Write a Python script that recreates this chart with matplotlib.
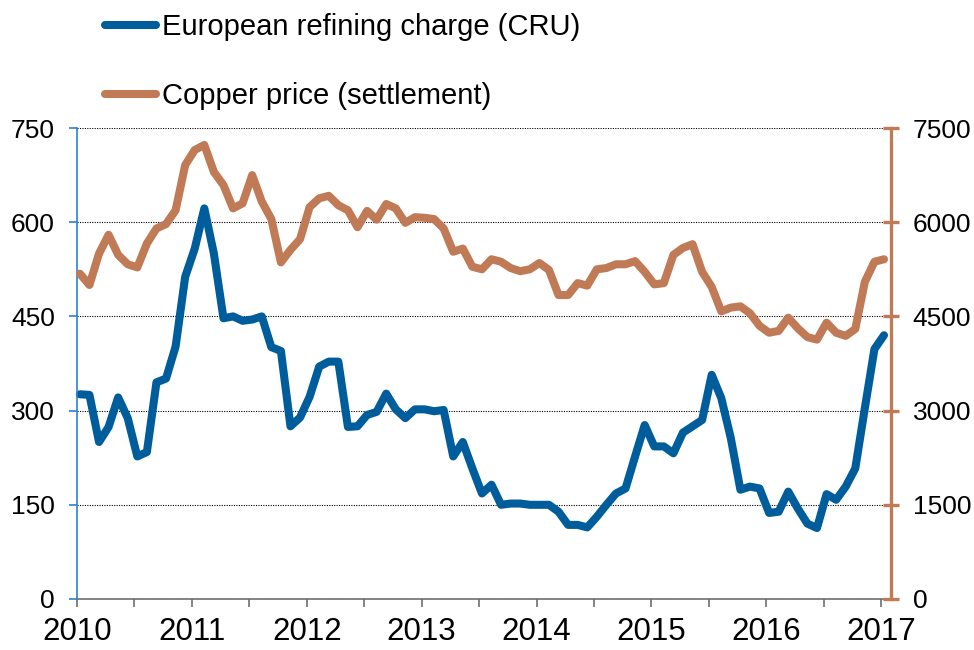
import numpy as np
import matplotlib
matplotlib.use("Agg")
import matplotlib.pyplot as plt

plt.rcParams['font.family'] = ['Liberation Sans', 'DejaVu Sans']

# monthly data, Jan 2010 .. Jan 2017
refining = [326, 325, 250, 274, 321, 288, 227, 234, 345, 351, 402, 513,
            558, 622, 550, 447, 450, 443, 445, 450, 401, 395, 275, 289,
            322, 370, 378, 378, 274, 275, 293, 298, 327, 302, 288, 302,
            302, 299, 301, 227, 250, 208, 168, 182, 150, 152, 152, 150,
            150, 150, 139, 118, 118, 114, 131, 150, 168, 176, 227, 277,
            243, 243, 232, 265, 275, 285, 357, 320, 256, 174, 179, 176,
            137, 139, 171, 144, 120, 113, 167, 158, 179, 208, 304, 398,
            420]
copper = [5180, 5000, 5500, 5800, 5480, 5330, 5280, 5660, 5900, 5970, 6190, 6910,
          7150, 7230, 6800, 6590, 6220, 6300, 6750, 6330, 6050, 5360, 5560, 5730,
          6240, 6380, 6420, 6270, 6190, 5920, 6180, 6040, 6290, 6220, 5990, 6080,
          6070, 6050, 5900, 5530, 5580, 5290, 5250, 5410, 5370, 5270, 5220, 5250,
          5350, 5240, 4840, 4840, 5030, 4990, 5250, 5270, 5330, 5330, 5380, 5210,
          5010, 5030, 5480, 5590, 5650, 5210, 4970, 4580, 4640, 4660, 4550, 4350,
          4240, 4270, 4480, 4310, 4170, 4130, 4400, 4240, 4190, 4300, 5050, 5370,
          5410]
years = list(range(2010, 2018))
left_ticks = [0, 150, 300, 450, 600, 750]
right_ticks = [0, 1500, 3000, 4500, 6000, 7500]

blue = '#005d9c'
brown = '#c07a55'

x = 2010 + (np.arange(len(refining)) + 0.3) / 12

fig = plt.figure(figsize=(9.74, 6.5), dpi=100)
ax = fig.add_axes([77 / 974, 51 / 650, 813.7 / 974, 471 / 650])
ax2 = ax.twinx()

l1, = ax.plot(x, refining, color=blue, lw=5.8, solid_joinstyle='round',
              solid_capstyle='round', clip_on=False,
              label='European refining charge (CRU)')
l2, = ax2.plot(x, copper, color=brown, lw=5.8, solid_joinstyle='round',
               solid_capstyle='round', clip_on=False,
               label='Copper price (settlement)')

ax.set_xlim(2010, 2017 + 1 / 12)
ax.set_ylim(0, 750)
ax2.set_ylim(0, 7500)

half = np.arange(2010, 2017.01, 0.5)
ax.set_xticks(half)
ax.set_xticklabels([str(int(h)) if h == int(h) else '' for h in half])
ax.set_yticks(left_ticks)
ax2.set_yticks(right_ticks)

ax.yaxis.grid(True, linestyle=(0, (1, 1.2)), color='black', linewidth=0.8)

for s in ['top', 'right']:
    ax.spines[s].set_visible(False)
for s in ['top', 'left', 'bottom']:
    ax2.spines[s].set_visible(False)
ax.spines['left'].set_color('#2f80d2')
ax.spines['left'].set_linewidth(1.2)
ax.spines['bottom'].set_color('#6e6e6e')
ax.spines['bottom'].set_linewidth(1.2)
ax2.spines['right'].set_color(brown)
ax2.spines['right'].set_linewidth(2.4)

ax.tick_params(axis='y', direction='out', length=6, width=1.2, color='#2f80d2',
               labelsize=19, pad=10)
ax.tick_params(axis='x', direction='out', length=6, width=1.2, color='#6e6e6e',
               labelsize=22.5, pad=7)
ax2.tick_params(axis='y', direction='inout', length=11.5, width=2.4, color=brown,
                labelsize=19, pad=10)

fig.legend(handles=[l1, l2], loc='upper left', bbox_to_anchor=(105 / 974, 0.98),
           frameon=False, fontsize=21, handlelength=1.75, handletextpad=0.2,
           labelspacing=1.42, borderpad=0, borderaxespad=0)

fig.savefig('out.png', dpi=100)
